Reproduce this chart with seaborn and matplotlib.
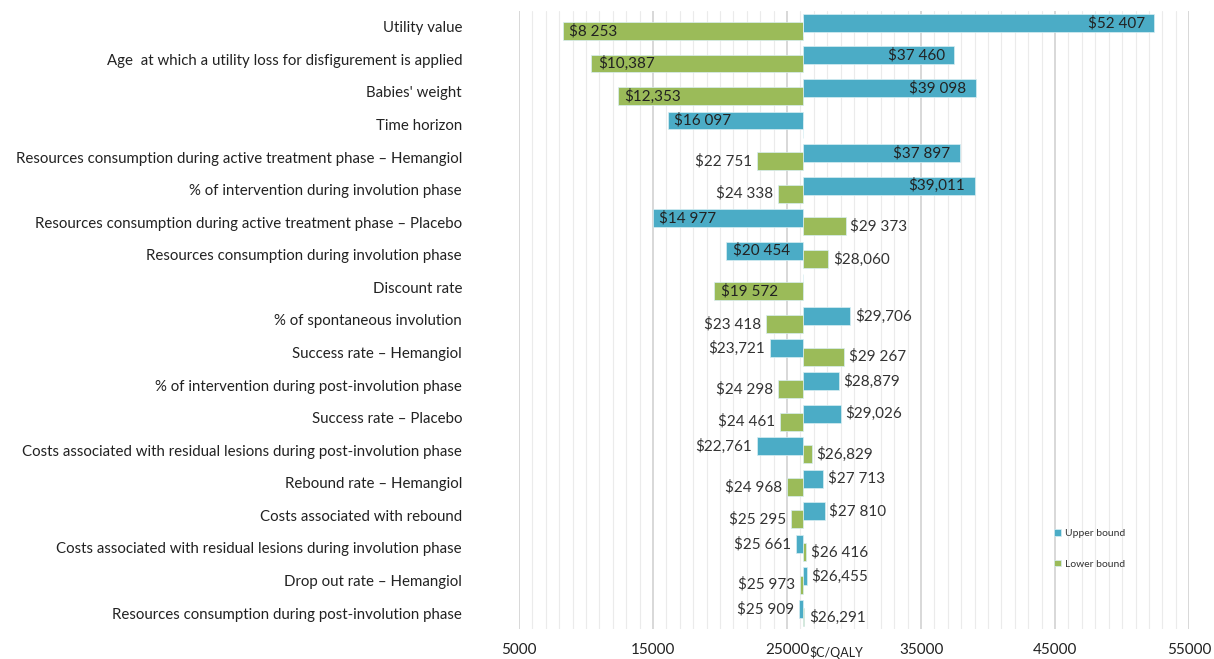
import numpy as np
import pandas as pd
import matplotlib
matplotlib.use("Agg")
import matplotlib.pyplot as plt
import seaborn as sns

# base-case ICER ($/QALY) the bars start from
base = 26200

categories = [
    "Utility value",
    "Age  at which a utility loss for disfigurement is applied",
    "Babies' weight",
    "Time horizon",
    "Resources consumption during active treatment phase \u2013 Hemangiol",
    "% of intervention during involution phase",
    "Resources consumption during active treatment phase \u2013 Placebo",
    "Resources consumption during involution phase",
    "Discount rate",
    "% of spontaneous involution",
    "Success rate \u2013 Hemangiol",
    "% of intervention during post-involution phase",
    "Success rate \u2013 Placebo",
    "Costs associated with residual lesions during post-involution phase",
    "Rebound rate \u2013 Hemangiol",
    "Costs associated with rebound",
    "Costs associated with residual lesions during involution phase",
    "Drop out rate \u2013 Hemangiol",
    "Resources consumption during post-involution phase",
]
upper = [52407, 37460, 39098, 16097, 37897, 39011, 14977, 20454, None, 29706,
         23721, 28879, 29026, 22761, 27713, 27810, 25661, 26455, 25909]
lower = [8253, 10387, 12353, None, 22751, 24338, 29373, 28060, 19572, 23418,
         29267, 24298, 24461, 26829, 24968, 25295, 26416, 25973, 26291]
upper_labels = ["$52 407", "$37 460", "$39 098", "$16 097", "$37 897", "$39,011",
                "$14 977", "$20 454", "", "$29,706", "$23,721", "$28,879", "$29,026",
                "$22,761", "$27 713", "$27 810", "$25 661", "$26,455", "$25 909"]
lower_labels = ["$8 253", "$10,387", "$12,353", "", "$22 751", "$24 338", "$29 373",
                "$28,060", "$19 572", "$23 418", "$29 267", "$24 298", "$24 461",
                "$26,829", "$24 968", "$25 295", "$26 416", "$25 973", "$26,291"]
x_ticks = [5000, 15000, 25000, 35000, 45000, 55000]

BLUE = "#4BACC6"
GREEN = "#9BBB59"

sns.set_style("white")
plt.rcParams["font.family"] = ["Lato", "DejaVu Sans"]

rows = []
for cat, u, l in zip(categories, upper, lower):
    rows.append({"param": cat, "bound": "Upper bound", "delta": (u if u is not None else base) - base})
    rows.append({"param": cat, "bound": "Lower bound", "delta": (l if l is not None else base) - base})
df = pd.DataFrame(rows)

fig = plt.figure(figsize=(12.14, 6.59), dpi=100)
ax = fig.add_axes([0.4275, 0.045, 0.9795 - 0.4275, 0.984 - 0.045])

sns.barplot(data=df, x="delta", y="param", hue="bound", order=categories,
            hue_order=["Upper bound", "Lower bound"],
            palette=[BLUE, GREEN], saturation=1, width=0.5, dodge=True, ax=ax,
            edgecolor="#d8eef3", linewidth=0.5, legend=True)

# widen the dodged bars so they overlap like the original tornado
for p in ax.patches:
    c = p.get_y() + p.get_height() / 2
    p.set_height(0.55)
    p.set_y(c - 0.275)

# value labels
for cont, labels in zip(ax.containers, [upper_labels, lower_labels]):
    for p, txt in zip(cont.patches, labels):
        if not txt:
            continue
        w = p.get_width()
        yc = p.get_y() + p.get_height() / 2
        x_end = p.get_x() + w
        if abs(w) > 5000:
            # inside the bar, near its outer end
            if w > 0:
                ax.text(x_end - 700, yc, txt, ha="right", va="center", fontsize=11, color="#222222")
            else:
                ax.text(x_end + 500, yc, txt, ha="left", va="center", fontsize=11, color="#222222")
        else:
            if w >= 0:
                ax.text(x_end + 350, yc, txt, ha="left", va="center", fontsize=11, color="#333333")
            else:
                ax.text(x_end - 350, yc, txt, ha="right", va="center", fontsize=11, color="#333333")

ax.set_xlim(x_ticks[0] - base, x_ticks[-1] - base)
ax.set_ylim(len(categories) - 0.5, -0.5)
ax.set_xticks(np.array(x_ticks) - base)
ax.set_xticklabels([str(t) for t in x_ticks], fontsize=11, color="#222222")
ax.set_xticks(np.arange(x_ticks[0], x_ticks[-1] + 1, 1000) - base, minor=True)
ax.grid(axis="x", which="minor", color="#ebebeb", linewidth=0.8, zorder=0)
ax.grid(axis="x", which="major", color="#d6d6d6", linewidth=1.3, zorder=0)
ax.set_axisbelow(True)
ax.tick_params(axis="x", which="both", length=0, pad=10)
ax.tick_params(axis="y", length=0, pad=41, labelsize=10.8, labelcolor="#222222")
ax.set_xlabel("")
ax.set_ylabel("")
for s in ax.spines.values():
    s.set_visible(False)

ax.legend(loc="center left", bbox_to_anchor=(0.785, 0.13), frameon=False,
          fontsize=7.5, handlelength=0.6, handleheight=0.6, handletextpad=0.4,
          labelspacing=2.1, labelcolor="#333333")

fig.text(0.667, 0.0, "$C/QALY", fontsize=9, color="#222222", va="bottom", ha="left")

fig.savefig("out.png", dpi=100)
